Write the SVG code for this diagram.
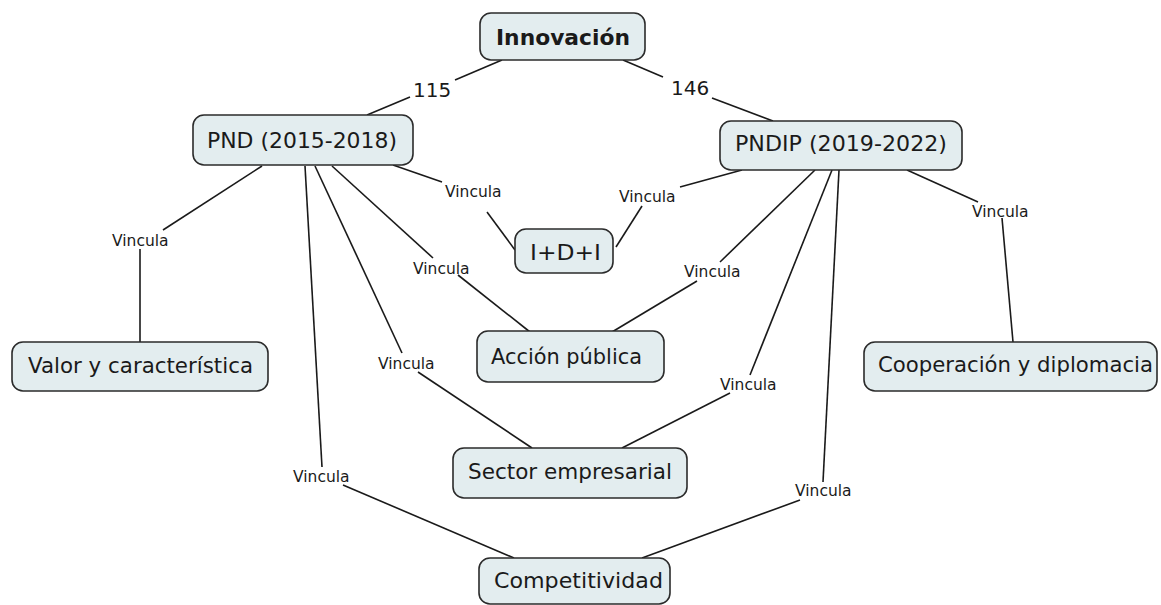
<svg xmlns="http://www.w3.org/2000/svg" width="1161" height="605" viewBox="0 0 1161 605">
<style>
.node rect{fill:#e3edef;stroke:#2b2b2b;stroke-width:1.6}
.node text{font-family:"DejaVu Sans",Verdana,sans-serif;font-size:22px;fill:#1a1a1a;text-anchor:middle}
#connectors line{stroke:#1a1a1a;stroke-width:1.6}
.lbl{font-family:"DejaVu Sans",Verdana,sans-serif;font-size:15.5px;fill:#1a1a1a}
.num{font-family:"DejaVu Sans",Verdana,sans-serif;font-size:20px;fill:#1a1a1a}
</style>
<rect width="1161" height="605" fill="#ffffff"/>
<g id="connectors">
<line x1="502" y1="60" x2="455" y2="80"/>
<line x1="410" y1="97" x2="367" y2="115"/>
<line x1="623" y1="60" x2="663" y2="77"/>
<line x1="712" y1="98" x2="773" y2="121"/>
<line x1="262" y1="166" x2="163" y2="230"/>
<line x1="140" y1="249" x2="140" y2="342"/>
<line x1="305" y1="166" x2="322" y2="467"/>
<line x1="343" y1="485" x2="514" y2="558"/>
<line x1="315" y1="166" x2="402" y2="353"/>
<line x1="418" y1="372" x2="532" y2="448"/>
<line x1="332" y1="166" x2="433" y2="258"/>
<line x1="458" y1="275" x2="530" y2="332"/>
<line x1="393" y1="165" x2="442" y2="182"/>
<line x1="487" y1="212" x2="515" y2="250"/>
<line x1="742" y1="170" x2="680" y2="187"/>
<line x1="642" y1="206" x2="616" y2="247"/>
<line x1="815" y1="170" x2="720" y2="262"/>
<line x1="697" y1="281" x2="612" y2="332"/>
<line x1="832" y1="170" x2="750" y2="375"/>
<line x1="730" y1="393" x2="622" y2="448"/>
<line x1="839" y1="170" x2="823" y2="482"/>
<line x1="800" y1="500" x2="642" y2="558"/>
<line x1="907" y1="170" x2="978" y2="202"/>
<line x1="1002" y1="218" x2="1013" y2="342"/>
<text class="num" x="413" y="97">115</text>
<text class="num" x="671" y="95">146</text>
<text class="lbl" x="112" y="246">Vincula</text>
<text class="lbl" x="445" y="197">Vincula</text>
<text class="lbl" x="619" y="202">Vincula</text>
<text class="lbl" x="413" y="274">Vincula</text>
<text class="lbl" x="684" y="277">Vincula</text>
<text class="lbl" x="378" y="369">Vincula</text>
<text class="lbl" x="720" y="390">Vincula</text>
<text class="lbl" x="293" y="482">Vincula</text>
<text class="lbl" x="795" y="496">Vincula</text>
<text class="lbl" x="972" y="217">Vincula</text>
</g>
<g id="innovacion" class="node"><rect x="480" y="13" width="165" height="47" rx="11"/><text x="563" y="45" font-weight="bold" textLength="134" lengthAdjust="spacingAndGlyphs">Innovación</text></g>
<g id="pnd" class="node"><rect x="193" y="115" width="220" height="50" rx="11"/><text x="302" y="148" textLength="190" lengthAdjust="spacingAndGlyphs">PND (2015-2018)</text></g>
<g id="pndip" class="node"><rect x="720" y="121" width="242" height="49" rx="11"/><text x="841" y="151" textLength="212" lengthAdjust="spacingAndGlyphs">PNDIP (2019-2022)</text></g>
<g id="idi" class="node"><rect x="515" y="229" width="98" height="44" rx="11"/><text x="565.5" y="260" textLength="71" lengthAdjust="spacingAndGlyphs">I+D+I</text></g>
<g id="valor" class="node"><rect x="12" y="342" width="256" height="49" rx="11"/><text x="140.5" y="373" textLength="225" lengthAdjust="spacingAndGlyphs">Valor y característica</text></g>
<g id="accion" class="node"><rect x="477" y="331" width="187" height="51" rx="11"/><text x="566.5" y="364" textLength="151" lengthAdjust="spacingAndGlyphs">Acción pública</text></g>
<g id="cooperacion" class="node"><rect x="864" y="342" width="293" height="49" rx="11"/><text x="1015.5" y="372" textLength="275" lengthAdjust="spacingAndGlyphs">Cooperación y diplomacia</text></g>
<g id="sector" class="node"><rect x="453" y="448" width="234" height="50" rx="11"/><text x="570" y="479" textLength="204" lengthAdjust="spacingAndGlyphs">Sector empresarial</text></g>
<g id="competitividad" class="node"><rect x="479" y="558" width="191" height="46" rx="11"/><text x="578.5" y="588" textLength="169" lengthAdjust="spacingAndGlyphs">Competitividad</text></g>
</svg>
